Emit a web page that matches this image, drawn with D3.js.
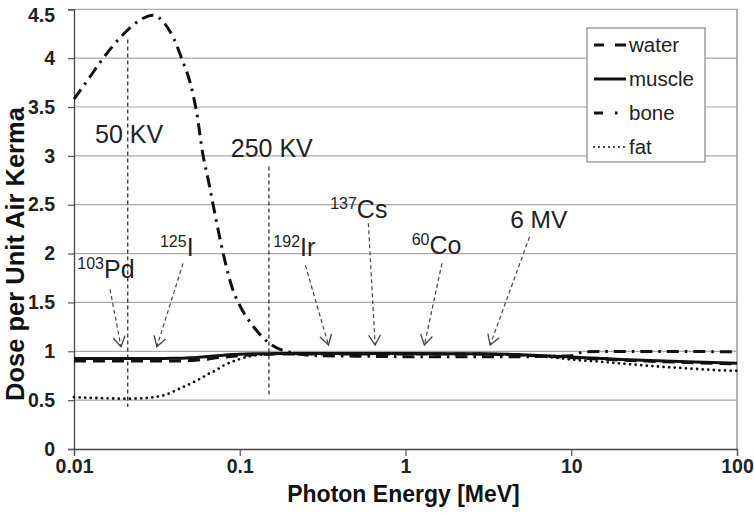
<!DOCTYPE html>
<html><head><meta charset="utf-8">
<script src="https://cdn.jsdelivr.net/npm/d3@7"></script>
<style>
html,body{margin:0;padding:0;background:#fff;}
svg{display:block;font-family:Arial,"Liberation Sans",sans-serif;}
</style></head>
<body><svg id="chart" width="754" height="513"></svg>
<script>
// ---- data ----
const energies = [0.01,0.0125,0.015,0.02,0.025,0.03,0.035,0.04,0.045,0.05,0.055,0.06,0.065,0.07,0.08,0.09,0.1,0.12,0.15,0.2,0.3,0.5,1,2,3,5,8,10,12,15,20,30,50,80,100];
const water  = [0.90,0.90,0.90,0.90,0.90,0.90,0.90,0.90,0.902,0.905,0.91,0.915,0.922,0.93,0.94,0.948,0.955,0.965,0.97,0.972,0.972,0.972,0.972,0.972,0.97,0.96,0.945,0.935,0.928,0.92,0.91,0.898,0.885,0.875,0.87];
const muscle = [0.925,0.925,0.925,0.925,0.925,0.925,0.926,0.928,0.93,0.933,0.937,0.942,0.947,0.952,0.96,0.966,0.97,0.974,0.976,0.978,0.978,0.978,0.977,0.976,0.975,0.965,0.95,0.942,0.935,0.927,0.917,0.905,0.892,0.882,0.877];
const bone   = [3.58,3.81,4.00,4.25,4.39,4.44,4.36,4.20,3.98,3.76,3.44,3.01,2.73,2.45,1.98,1.65,1.47,1.26,1.085,0.99,0.955,0.95,0.945,0.945,0.945,0.945,0.95,0.955,0.995,0.997,0.998,0.998,0.997,0.996,0.995];
const fat    = [0.53,0.524,0.52,0.515,0.518,0.53,0.55,0.59,0.63,0.665,0.70,0.735,0.77,0.795,0.855,0.893,0.92,0.955,0.97,0.975,0.975,0.975,0.975,0.974,0.972,0.96,0.935,0.915,0.905,0.893,0.875,0.85,0.825,0.805,0.80];
const seriesNames = ["water","muscle","bone","fat"];
const xTicks = [0.01,0.1,1,10,100];
const xTickLabels = ["0.01","0.1","1","10","100"];
const yTicks = [0,0.5,1,1.5,2,2.5,3,3.5,4,4.5];
const yTickLabels = ["0","0.5","1","1.5","2","2.5","3","3.5","4","4.5"];
// tube voltage markers
const kvLabels = ["50 KV","250 KV"];
const kvE = [0.0211,0.150];
const kvLow = [0.43,0.535];
const kvHigh = [4.19,2.89];
const kvLabelE = [0.0134,0.0883];
const kvLabelV = [3.13,2.99];
// source arrows
const isoSup  = ["103","125","192","137","60",""];
const isoMain = ["Pd","I","Ir","Cs","Co","6 MV"];
const isoLabelE = [0.01047,0.033,0.1595,0.351,1.09,4.28];
const isoLabelV = [1.747,1.98,1.98,2.36,2.00,2.26];
const arrowFromE = [0.0165,0.0455,0.249,0.597,1.66,5.60];
const arrowFromV = [1.635,1.90,1.88,2.31,1.90,2.17];
const arrowToE = [0.0192,0.0316,0.343,0.656,1.30,3.24];
const arrowToV = [1.047,1.047,1.064,1.064,1.064,1.064];

// ---- layout ----
const L=74, R=737, T=9.3, B=449;
const svg = d3.select("#chart");
const x = d3.scaleLog().domain([0.01,100]).range([L,R]);
const y = d3.scaleLinear().domain([0,4.5]).range([B,T]);

// gridlines
svg.append("g").selectAll("line").data(yTicks.filter(d=>d>0)).join("line")
  .attr("x1",L).attr("x2",R).attr("y1",d=>y(d)).attr("y2",d=>y(d))
  .attr("stroke","#a8a8a8").attr("stroke-width",1.2);
// right border
svg.append("line").attr("x1",R).attr("x2",R).attr("y1",T).attr("y2",B)
  .attr("stroke","#999").attr("stroke-width",1.5);

// axes
const yAxis = d3.axisLeft(y).tickValues(yTicks).tickFormat((d,i)=>yTickLabels[i]).tickSize(6).tickPadding(13);
const gy = svg.append("g").attr("transform",`translate(${L},0)`).call(yAxis);
const xAxis = d3.axisBottom(x).tickValues(xTicks).tickFormat((d,i)=>xTickLabels[i]).tickSize(7).tickPadding(3);
const gx = svg.append("g").attr("transform",`translate(0,${B})`).call(xAxis);
[gx,gy].forEach(g=>{
  g.select(".domain").attr("stroke","#444").attr("stroke-width",1.3);
  g.selectAll(".tick line").attr("stroke","#555").attr("stroke-width",1.2);
  g.selectAll(".tick text").attr("fill","#222").attr("font-size",19.5).attr("font-weight","bold")
    .attr("font-family","Arial, 'Liberation Sans', sans-serif");
});
// keep top tick label inside the picture
gy.selectAll(".tick text").filter(d=>d===4.5).attr("dy","0.6em");

// axis titles
svg.append("text").attr("x",(L+R)/2-2).attr("y",502).attr("text-anchor","middle")
  .attr("font-size",23).attr("font-weight","bold").attr("fill","#111").text("Photon Energy [MeV]");
svg.append("text").attr("transform",`translate(24,${254}) rotate(-90)`).attr("text-anchor","middle")
  .attr("font-size",25.5).attr("font-weight","bold").attr("fill","#111").text("Dose per Unit Air Kerma");

// kV vertical lines
kvE.forEach((e,i)=>{
  svg.append("line").attr("x1",x(e)).attr("x2",x(e)).attr("y1",y(kvHigh[i])).attr("y2",y(kvLow[i]))
    .attr("stroke","#222").attr("stroke-width",1.2).attr("stroke-dasharray","4,3");
  svg.append("text").attr("x",x(kvLabelE[i])).attr("y",y(kvLabelV[i]))
    .attr("font-size",25).attr("fill","#222").text(kvLabels[i]);
});

// series
const styles = {
  water:{data:water,dash:"12,7",cap:"butt",w:3},
  muscle:{data:muscle,dash:null,cap:"butt",w:3},
  bone:{data:bone,dash:"12,6,2.5,6",cap:"butt",w:3},
  fat:{data:fat,dash:"0,5.6",cap:"round",w:2.8}
};
const line = d3.line().x(d=>x(d[0])).y(d=>y(d[1])).curve(d3.curveMonotoneX);
["fat","bone","water","muscle"].forEach(n=>{
  const s = styles[n];
  svg.append("path").datum(energies.map((e,i)=>[e,s.data[i]]))
    .attr("d",line).attr("fill","none").attr("stroke","#111").attr("stroke-width",s.w)
    .attr("stroke-dasharray",s.dash).attr("stroke-linecap",s.cap);
});

// arrows
const defs = svg.append("defs");
defs.append("marker").attr("id","arr").attr("markerUnits","userSpaceOnUse")
  .attr("viewBox","-12 -8 14 16").attr("refX",0).attr("refY",0)
  .attr("markerWidth",14).attr("markerHeight",16).attr("orient","auto")
  .append("path").attr("d","M-10,-6L0,0L-10,6").attr("fill","none").attr("stroke","#444").attr("stroke-width",1.3);
isoMain.forEach((m,i)=>{
  svg.append("line").attr("x1",x(arrowFromE[i])).attr("y1",y(arrowFromV[i]))
    .attr("x2",x(arrowToE[i])).attr("y2",y(arrowToV[i]))
    .attr("stroke","#444").attr("stroke-width",1.2).attr("stroke-dasharray","4,3")
    .attr("marker-end","url(#arr)");
  const t = svg.append("text").attr("x",x(isoLabelE[i])).attr("y",y(isoLabelV[i])).attr("fill","#222");
  if (isoSup[i]) {
    t.append("tspan").attr("font-size",16).attr("dy",-9).text(isoSup[i]);
    t.append("tspan").attr("font-size",25).attr("dy",9).text(m);
  } else {
    t.append("tspan").attr("font-size",24.5).text(m);
  }
});

// legend
const lg = svg.append("g");
lg.append("rect").attr("x",587).attr("y",28).attr("width",118).attr("height",134)
  .attr("fill","#fff").attr("stroke","#888").attr("stroke-width",1.2);
const legendDash = {water:"10,11,12",muscle:null,bone:"9,12,2.5,12",fat:"0,5"};
seriesNames.forEach((n,i)=>{
  const cy = 45 + i*34;
  const s = styles[n];
  lg.append("line").attr("x1",594).attr("x2",626).attr("y1",cy).attr("y2",cy)
    .attr("stroke","#111").attr("stroke-width",n==="fat"?2:3)
    .attr("stroke-dasharray",legendDash[n]).attr("stroke-linecap",s.cap);
  lg.append("text").attr("x",629).attr("y",cy+7).attr("font-size",20.5).attr("fill","#222").text(n);
});
</script></body></html>
